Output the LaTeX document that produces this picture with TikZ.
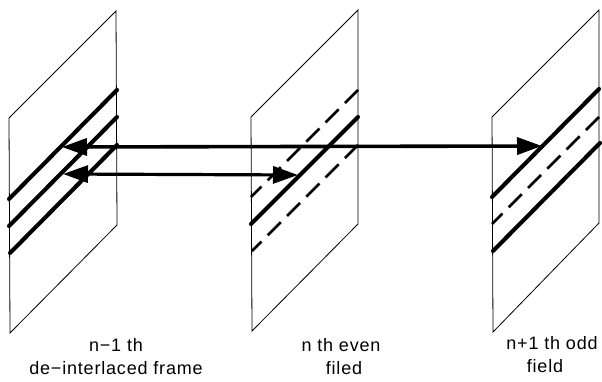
\documentclass[tikz,border=0pt]{standalone}
\usepackage{fontspec}
\setmainfont{Liberation Sans}[LetterSpace=4.5]
\usetikzlibrary{arrows.meta}
\tikzset{
  plane/.style={draw=black,line width=0.8pt,line join=miter},
  solidline/.style={line width=4.1pt,line cap=round},
  dashline/.style={line width=2.8pt,dash pattern=on 18.5pt off 8.8pt},
  bigarrow/.style={line width=3.6pt,{Triangle[length=25pt,width=17pt]}-{Triangle[length=25pt,width=17pt]}},
  smallarrow/.style={line width=3.2pt,{Triangle[length=25pt,width=17pt]}-{Triangle[length=25pt,width=17pt]}},
  caption/.style={font=\fontsize{18}{23}\selectfont,align=center,anchor=center,inner sep=0pt}
}
\begin{document}
\begin{tikzpicture}[x=1pt,y=-1pt]
\useasboundingbox (0,0) rectangle (602,381);
\fill[white] (0,0) rectangle (602,381);
% planes
\draw[plane] (9,118) -- (116,11) -- (117,225) -- (10,333) -- cycle;
\draw[plane] (251,117) -- (358,10) -- (358,224) -- (252,331) -- cycle;
\draw[plane] (492,117) -- (599,10) -- (599,223) -- (493,332) -- cycle;
% plane 1 lines
\draw[solidline] (9,199) -- (117,90);
\draw[solidline] (9,226) -- (117,117);
\draw[solidline] (10,253) -- (117,145);
% plane 2 lines
\draw[dashline] (358,90) -- (251,197);
\draw[solidline] (251,224) -- (358,117);
\draw[dashline] (358,145) -- (252,251);
% plane 3 lines
\draw[solidline] (492,197) -- (599,89);
\draw[dashline] (599,117) -- (492,224);
\draw[solidline] (493,251) -- (600,143);
% arrows
\coordinate (a1) at (62,147);
\coordinate (b1) at (542,146);
\coordinate (a2) at (63,174);
\coordinate (b2) at (298,175);
\draw[bigarrow] (a1) -- (b1);
\draw[smallarrow] (a2) -- (b2);
% captions
\node[caption] (c1) at (116,357) {n\textminus 1 th\\de\textminus interlaced frame};
\node[caption] (c2) at (341,357) {n th even\\\hbox{\kern6pt filed}};
\node[caption] (c3) at (552,355) {n+1 th odd\\\hbox{field\kern14pt}};
\end{tikzpicture}
\end{document}
